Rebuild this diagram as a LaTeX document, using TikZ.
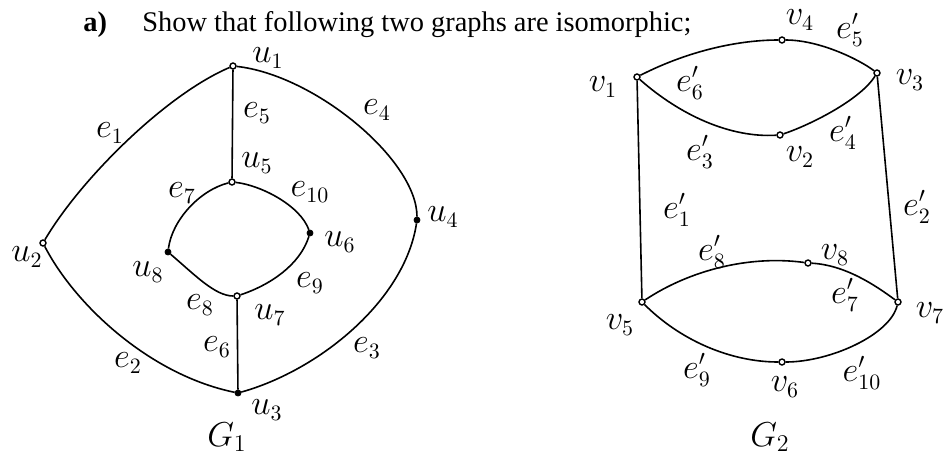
\documentclass[tikz,border=0pt]{standalone}
\usepackage{fontspec}
\setmainfont{Liberation Serif}
\usepackage{tikz}
\usetikzlibrary{positioning}

\begin{document}
\begin{tikzpicture}[x=0.5pt,y=-0.5pt,
    every node/.style={font=\fontsize{16}{18}\selectfont, inner sep=1pt},
    vtx/.style={circle, draw=ink, fill=white, line width=0.7pt, inner sep=0pt, minimum size=3pt},
    dotv/.style={circle, draw=ink, fill=ink, inner sep=0pt, minimum size=3pt},
    edge/.style={draw=ink, line width=0.8pt}]
  \definecolor{ink}{HTML}{000000}
  \useasboundingbox (0,0) rectangle (950,462);
  % title
  \node[anchor=base west, inner sep=0pt, font=\fontsize{14.2}{16}\selectfont\bfseries] (part) at (83,31) {a)};
  \node[anchor=base west, inner sep=0pt, font=\fontsize{14.2}{16}\selectfont] (title) at (142,31) {Show that following two graphs are isomorphic;};
  % G1 vertices
  \node[vtx]  (u1) at (233,66) {};
  \node[vtx]  (u2) at (43,243) {};
  \node[dotv] (u3) at (238,393) {};
  \node[dotv] (u4) at (417,220) {};
  \node[vtx]  (u5) at (232,182) {};
  \node[dotv] (u6) at (310,233) {};
  \node[vtx]  (u7) at (237,296) {};
  \node[dotv] (u8) at (168,252) {};
  % G1 edges
  \draw[edge] (u1) .. controls (165,95) and (80,180) .. (u2);
  \draw[edge] (u2) .. controls (75,305) and (150,375) .. (u3);
  \draw[edge] (u3) .. controls (320,370) and (405,300) .. (u4);
  \draw[edge] (u4) .. controls (417,160) and (315,75) .. (u1);
  \draw[edge] (u1) -- (u5);
  \draw[edge] (u7) -- (u3);
  \draw[edge] (u5) .. controls (200,190) and (172,220) .. (u8);
  \draw[edge] (u8) .. controls (195,275) and (215,296) .. (u7);
  \draw[edge] (u7) .. controls (270,285) and (300,265) .. (u6);
  \draw[edge] (u6) .. controls (300,205) and (260,185) .. (u5);
  % G1 labels
  \node at (268,58) {$u_1$};
  \node at (27,257) {$u_2$};
  \node at (267,410) {$u_3$};
  \node at (443,217) {$u_4$};
  \node at (257,163) {$u_5$};
  \node at (340,242) {$u_6$};
  \node at (270,315) {$u_7$};
  \node at (148,272) {$u_8$};
  \node at (110,133) {$e_1$};
  \node at (128,363) {$e_2$};
  \node at (367,348) {$e_3$};
  \node at (377,110) {$e_4$};
  \node at (257,113) {$e_5$};
  \node at (217,347) {$e_6$};
  \node at (182,193) {$e_7$};
  \node at (200,305) {$e_8$};
  \node at (310,283) {$e_9$};
  \node at (310,192) {$e_{10}$};
  \node[font=\fontsize{18}{20}\selectfont] (g1) at (227,437) {$G_1$};
  % G2 vertices
  \node[vtx] (v1) at (637,77) {};
  \node[vtx] (v2) at (780,135) {};
  \node[vtx] (v3) at (877,73) {};
  \node[vtx] (v4) at (782,40) {};
  \node[vtx] (v5) at (642,302) {};
  \node[vtx] (v6) at (782,362) {};
  \node[vtx] (v7) at (898,302) {};
  \node[vtx] (v8) at (808,263) {};
  % G2 edges
  \draw[edge] (v1) .. controls (690,50) and (740,40) .. (v4);
  \draw[edge] (v4) .. controls (820,40) and (860,60) .. (v3);
  \draw[edge] (v3) .. controls (860,100) and (810,125) .. (v2);
  \draw[edge] (v2) .. controls (730,138) and (680,115) .. (v1);
  \draw[edge] (v1) -- (v5);
  \draw[edge] (v3) -- (v7);
  \draw[edge] (v5) .. controls (690,270) and (750,255) .. (v8);
  \draw[edge] (v8) .. controls (845,265) and (875,285) .. (v7);
  \draw[edge] (v7) .. controls (890,335) and (830,362) .. (v6);
  \draw[edge] (v6) .. controls (730,362) and (680,340) .. (v5);
  % G2 labels
  \node at (603,87) {$v_1$};
  \node at (800,157) {$v_2$};
  \node at (910,80) {$v_3$};
  \node at (800,20) {$v_4$};
  \node at (620,325) {$v_5$};
  \node at (785,387) {$v_6$};
  \node at (930,313) {$v_7$};
  \node at (835,255) {$v_8$};
  \node at (677,210) {$e'_1$};
  \node at (917,207) {$e'_2$};
  \node at (700,152) {$e'_3$};
  \node at (843,133) {$e'_4$};
  \node at (850,30) {$e'_5$};
  \node at (690,83) {$e'_6$};
  \node at (845,295) {$e'_7$};
  \node at (712,252) {$e'_8$};
  \node at (697,370) {$e'_9$};
  \node at (862,373) {$e'_{10}$};
  \node[font=\fontsize{18}{20}\selectfont] (g2) at (770,437) {$G_2$};
\end{tikzpicture}
\end{document}
